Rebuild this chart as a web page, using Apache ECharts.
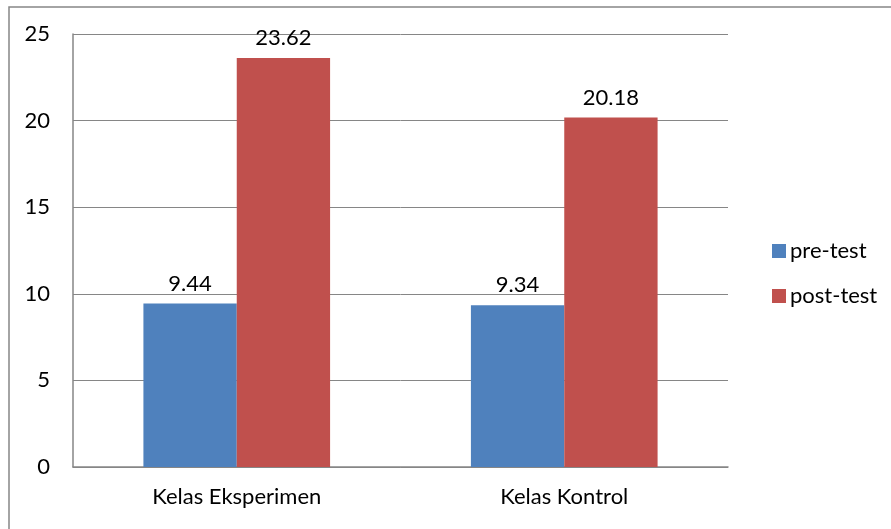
<!DOCTYPE html>
<html>
<head>
<meta charset="utf-8">
<script src="https://cdn.jsdelivr.net/npm/echarts@6/dist/echarts.min.js"></script>
<style>
  html, body { margin: 0; padding: 0; background: #fff; }
  #chart { width: 891px; height: 529px; }
</style>
</head>
<body>
<div id="chart"></div>
<script>
var categories = ['Kelas Eksperimen', 'Kelas Kontrol'];
var preTest = [9.44, 9.34];
var postTest = [23.62, 20.18];
var yTicks = [0, 5, 10, 15, 20, 25];

var font = 'Lato, "Open Sans", sans-serif';
var fs = 22;
var myChart = echarts.init(document.getElementById('chart'));

var option = {
  animation: false,
  textStyle: { fontFamily: font },
  graphic: [{
    type: 'rect',
    shape: { x: 9, y: 7, width: 900, height: 540 },
    style: { fill: 'none', stroke: '#868686', lineWidth: 1.5 }
  }],
  legend: {
    orient: 'vertical',
    left: 767,
    top: 235,
    itemWidth: 14,
    itemHeight: 14,
    itemGap: 23,
    icon: 'rect',
    textStyle: { fontFamily: font, fontSize: fs, lineHeight: 22, color: '#000', padding: [0, 0, 0, -1] },
    data: ['pre-test', 'post-test']
  },
  grid: {
    left: 73,
    right: 163,
    top: 34,
    bottom: 62
  },
  xAxis: {
    type: 'category',
    data: categories,
    axisLine: { lineStyle: { color: '#868686', width: 1.5 } },
    axisTick: { show: false },
    axisLabel: { fontFamily: font, fontSize: fs, color: '#000', margin: 19 }
  },
  yAxis: {
    type: 'value',
    min: yTicks[0],
    max: yTicks[yTicks.length - 1],
    interval: 5,
    axisLine: { show: true, lineStyle: { color: '#868686', width: 1.5 } },
    axisTick: { show: false },
    splitLine: { lineStyle: { color: '#868686', width: 1 } },
    axisLabel: { fontFamily: font, fontSize: fs, color: '#000', margin: 23 }
  },
  series: [{
    name: 'pre-test',
    type: 'bar',
    data: preTest,
    barGap: '0%',
    barCategoryGap: '43%',
    itemStyle: { color: '#4f81bd' },
    label: { show: true, position: 'top', distance: 9, fontFamily: font, fontSize: fs, color: '#000' }
  }, {
    name: 'post-test',
    type: 'bar',
    data: postTest,
    barGap: '0%',
    barCategoryGap: '43%',
    itemStyle: { color: '#c0504d' },
    label: { show: true, position: 'top', distance: 9, fontFamily: font, fontSize: fs, color: '#000' }
  }]
};

myChart.setOption(option, true);
</script>
</body>
</html>
